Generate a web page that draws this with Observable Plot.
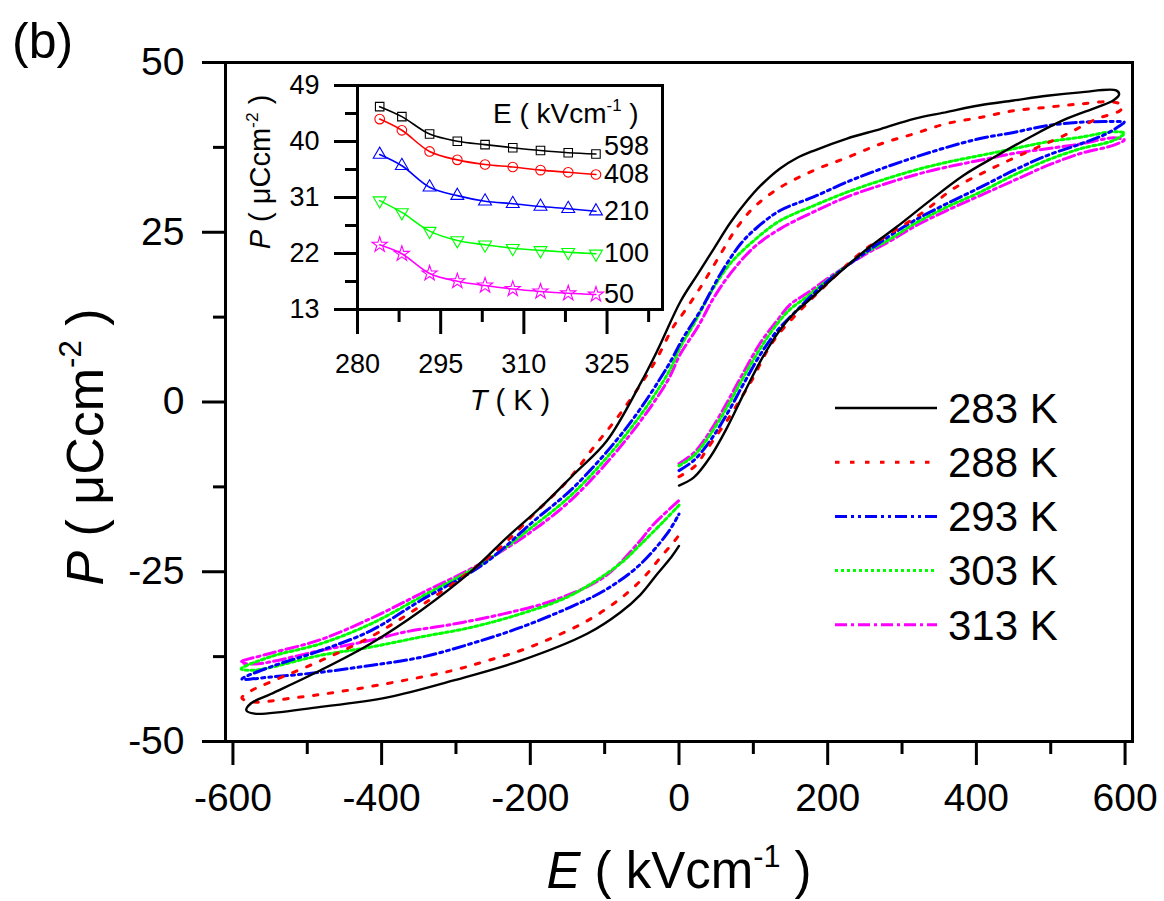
<!DOCTYPE html>
<html><head><meta charset="utf-8">
<script src="https://cdn.jsdelivr.net/npm/d3@7"></script>
<script src="https://cdn.jsdelivr.net/npm/@observablehq/plot@0.6"></script>
<style>
html,body{margin:0;padding:0;background:#fff;}
#wrap{position:relative;width:1164px;height:901px;font-family:Arial,"Liberation Sans",sans-serif;}
#wrap svg{position:absolute;overflow:visible;}
</style></head><body><div id="wrap"></div>
<script>
// ---------- main hysteresis loops (E in kV/cm, P in µC/cm²), path order ----------
const series = ["283 K","288 K","293 K","303 K","313 K"];
const colors = ["#000000","#ff0000","#0000ff","#00ff00","#ff00ff"];
const dashes = [null,"4.5,10.5","12,4,3,4,3,4","3,3","12,4,3,4"];

const E283 = [0,20,42,65,87,110,132,154,172,204,248,293,338,383,428,472,517,562,584,592,588,540,495,450,405,360,316,271,226,181,158,136,110,92,69,47,25,2,-29,-52,-97,-141,-186,-231,-278,-347,-415,-482,-549,-576,-582,-571,-482,-392,-303,-213,-123,-79,-52,-29,-10,0];
const P283 = [-12.3,-11.1,-8.1,-3.7,1.2,6.1,10,13,14.7,17.9,22.1,25.8,29.7,33.4,36.3,39,41.5,43.4,44.4,45.3,45.9,45.6,45.1,44.4,43.7,42.7,41.7,40.2,38.8,37,35.9,34.4,31.9,29.7,26.4,22.6,18.8,14.8,7.6,2.7,-5.7,-10.6,-15.5,-19.9,-24.8,-30.7,-35.6,-39.5,-43,-44.4,-45.4,-45.9,-44.9,-43.5,-41,-38.1,-34.1,-31.0,-28.4,-25.3,-22.8,-21.2];

const E288 = [0,22,38,69,83,98,119,134,150,172,204,248,284,329,369,419,472,517,562,593,597,584,540,495,450,405,360,316,271,226,181,136,101,78,56,29,2,-7,-34,-79,-115,-150,-195,-240,-267,-347,-415,-482,-549,-575,-588,-571,-527,-459,-370,-303,-258,-213,-168,-123,-88,-63,-43,-25,-7,0];
const P288 = [-11,-9.4,-6.9,-2,0.5,3.2,7.6,10,12,14.5,17.9,22.3,24.8,28,31.4,34.3,37,39.2,41.7,42.9,43.6,44.2,43.9,43.4,42.9,41.9,41,39.5,38,36,34.1,31.6,28.7,25.7,21.8,16.9,12.5,11.2,5.6,-1.7,-6.7,-11.6,-16.5,-21.4,-23.8,-30,-34.6,-38.1,-41.2,-42.5,-43.6,-44.2,-43.7,-42.7,-41,-39.5,-38.1,-36.6,-34.6,-32.2,-29.7,-27.5,-25.3,-22.9,-20.6,-19.6];

const E293 = [0,20,42,65,87,110,132,154,172,204,248,284,316,360,405,450,495,540,575,593,599,580,540,495,450,405,360,316,271,226,181,136,105,83,56,29,6,-16,-70,-141,-195,-262,-347,-415,-482,-549,-588,-549,-482,-415,-347,-280,-213,-146,-101,-56,-16,0];
const P293 = [-10.1,-8.6,-5.7,-1.7,2.7,7.1,10.5,13,15,18.2,21.8,24.5,26.7,29.2,31.6,34.1,36.3,38,39.5,40.7,41.2,41.3,41.2,40.7,39.7,38.8,37.5,36,34.3,32.4,30.2,28.2,25.7,23.3,18.9,13.5,9.5,5.1,-3.7,-12.5,-17.5,-23.8,-29.2,-33.7,-36.6,-39,-40.8,-40.5,-39.8,-38.8,-37.6,-35.6,-33.2,-30.2,-27.8,-24.3,-19.4,-16.5];

const E303 = [0,20,42,65,87,110,132,150,172,204,248,284,316,360,405,450,495,540,584,599,584,540,495,450,405,360,316,271,226,181,136,101,69,47,20,2,-16,-70,-141,-195,-262,-347,-415,-482,-549,-589,-571,-482,-415,-347,-280,-213,-146,-79,-52,-20,0];
const P303 = [-9.4,-7.9,-4.8,-0.7,3.7,8,11.5,13.7,15.5,18.3,21.8,24,26.2,28.7,30.9,33.4,35.6,37.3,38.5,39.6,39.8,39,38.3,37.3,36.3,35.3,34.1,32.6,30.9,28.9,26.7,23.8,20.4,16.9,11.5,8.1,4,-4.6,-13.3,-18.2,-23.6,-28.7,-32.7,-35.6,-37.5,-39.3,-39.5,-37.3,-36.1,-34.6,-33.2,-31.2,-28.5,-23.8,-21,-17.5,-15.2];

const E313 = [0,20,42,65,87,110,132,150,172,204,248,284,316,360,405,450,495,540,584,599,584,540,495,450,405,360,316,271,226,181,136,101,69,47,25,2,-16,-70,-141,-195,-262,-347,-415,-482,-549,-589,-571,-482,-415,-370,-303,-236,-168,-101,-56,-34,0];
const P313 = [-9.1,-7.5,-4.3,0,4.4,8.8,12,14.4,16,18.5,21.6,23.7,25.8,28.2,30.4,32.6,34.8,36.6,37.8,38.6,38.9,38,37.3,36.6,35.6,34.6,33.4,31.9,30.2,28,25.5,22.8,18.9,15.4,11,7.1,3,-5.4,-14,-18.8,-23.5,-28.2,-31.9,-35,-37,-38.3,-38.6,-36.6,-35.1,-33.9,-32.7,-31.2,-29.2,-25.8,-20.9,-18.0,-14.5];

const xMajor = [-600,-400,-200,0,200,400,600];
const xMinor = [-500,-300,-100,100,300,500];
const yMajor = [-50,-25,0,25,50];
const yMinor = [-37.5,-12.5,12.5,37.5];

// ---------- inset: P vs T at several fields ----------
const T = [284,288,293,298,303,308,313,318,323];
const fields = ["598","408","210","100","50"];
const P598 = [45.6,44.0,41.2,40.05,39.5,39.0,38.55,38.2,38.0];
const P408 = [43.6,41.8,38.4,37.05,36.3,35.9,35.4,35.05,34.7];
const P210 = [37.9,36.1,32.65,31.3,30.4,30.0,29.55,29.2,28.8];
const P100 = [30.5,28.6,25.6,24.1,23.4,22.85,22.5,22.2,21.95];
const P50  = [23.4,21.95,18.8,17.55,16.85,16.3,15.9,15.6,15.4];
const insetSymbols = ["square","circle","triangle","triangle","star"];
const insetRotate = [0,0,0,180,0];
const tMajor = [280,295,310,325];
const tMinor = [287.5,302.5,317.5,332.5];
const pMajor = [13,22,31,40,49];
const pMinor = [17.5,26.5,35.5,44.5];

const FONT = "Arial, 'Liberation Sans', sans-serif";
const loops = [[E283,P283],[E288,P288],[E293,P293],[E303,P303],[E313,P313]];
const loopRows = loops.map(([E,P],i)=>E.map((e,j)=>({series:series[i],E:e,P:P[j]})));

const lineMarks = [];
for (let i = loops.length-1; i >= 0; i--) {
  lineMarks.push(Plot.line(loopRows[i], {
    x:"E", y:"P", stroke: colors[i], strokeWidth: i===0 ? 2.4 : 3,
    strokeDasharray: dashes[i] || undefined, curve:"catmull-rom"
  }));
}

const main = Plot.plot({
  width:1164, height:901,
  marginLeft:225, marginRight:32, marginTop:62, marginBottom:160,
  style:{fontFamily:FONT, background:"transparent", color:"#000", overflow:"visible"},
  x:{domain:[-610,610]}, y:{domain:[-50,50]},
  marks:[
    ...lineMarks,
    Plot.axisX({ticks:xMajor, tickSize:24, tickPadding:18, fontSize:39, strokeWidth:3, label:null, tickFormat:d=>String(d)}),
    Plot.axisX({ticks:xMinor, tickSize:13, strokeWidth:3, label:null, tickFormat:()=>""}),
    Plot.axisY({ticks:yMajor, tickSize:23, tickPadding:18, fontSize:39, strokeWidth:3, label:null, tickFormat:d=>String(d)}),
    Plot.axisY({ticks:yMinor, tickSize:12, strokeWidth:3, label:null, tickFormat:()=>""}),
    Plot.frame({strokeWidth:3})
  ]
});
main.style.left = "0px"; main.style.top = "0px";
const wrap = document.getElementById("wrap");
wrap.appendChild(main);

function richText(svg, {x, y, size, anchor="middle", rotate=0, parts}) {
  const t = d3.select(svg).append("text")
    .attr("transform", `translate(${x},${y}) rotate(${rotate})`)
    .attr("text-anchor", anchor).attr("font-size", size)
    .attr("font-family", FONT).attr("fill", "#000");
  let shifted = false;
  parts.forEach(p => {
    const ts = t.append("tspan").text(p.t);
    if (p.italic) ts.attr("font-style", "italic");
    if (p.sup) { ts.attr("font-size", size*0.6).attr("dy", -size*0.42); shifted = true; }
    else if (shifted) { ts.attr("dy", size*0.42); shifted = false; }
  });
}

// main axis titles and panel label
richText(main, {x:679, y:888, size:51, parts:[{t:"E",italic:true},{t:" ( kVcm"},{t:"-1",sup:true},{t:" )"}]});
richText(main, {x:103, y:447, size:52, rotate:-90, parts:[{t:"P",italic:true},{t:" ( \u03bcCcm"},{t:"-2",sup:true},{t:" )"}]});
richText(main, {x:12, y:58, size:50, anchor:"start", parts:[{t:"(b)"}]});

// legend
const leg = d3.select(main).append("g");
series.forEach((s,i)=>{
  const yy = 408 + i*54.2;
  const l = leg.append("line").attr("x1",835).attr("x2",937).attr("y1",yy).attr("y2",yy)
    .attr("stroke",colors[i]).attr("stroke-width", i===0?2.4:3);
  if (dashes[i]) l.attr("stroke-dasharray", dashes[i]);
  leg.append("text").attr("x",948).attr("y",yy).attr("dy","0.35em")
    .attr("text-anchor","start")
    .attr("font-size",42).attr("font-family",FONT).attr("fill","#000").text(s);
});

// ---------- inset ----------
const insetP = [P598,P408,P210,P100,P50];
const insetRows = insetP.map((P,i)=>T.map((t,j)=>({field:fields[i],T:t,P:P[j]})));
const insetMarks = [];
insetRows.forEach((rows,i)=>{
  insetMarks.push(Plot.line(rows,{x:"T",y:"P",stroke:colors[i],strokeWidth:1.6,curve:"catmull-rom"}));
  insetMarks.push(Plot.dot(rows,{x:"T",y:"P",stroke:colors[i],fill:"none",strokeWidth:1.1,r:4.8,
    symbol:insetSymbols[i], rotate:insetRotate[i]}));
});
const lastRows = insetRows.map(r=>r[r.length-1]);
const inset = Plot.plot({
  width:460, height:370,
  marginLeft:137, marginRight:18, marginTop:30, marginBottom:116,
  style:{fontFamily:FONT, background:"transparent", color:"#000", overflow:"visible"},
  x:{domain:[280,335]}, y:{domain:[13,49]},
  marks:[
    ...insetMarks,
    Plot.text(lastRows.slice(0,1),{x:"T",y:"P",text:"field",dx:8,dy:-8,textAnchor:"start",fontSize:27,fill:"#000"}),
    Plot.text(lastRows.slice(1),{x:"T",y:"P",text:"field",dx:8,dy:0,textAnchor:"start",fontSize:27,fill:"#000"}),
    Plot.axisX({ticks:tMajor, tickSize:25, tickPadding:19, fontSize:27, strokeWidth:3, label:null, tickFormat:d=>String(d)}),
    Plot.axisX({ticks:tMinor, tickSize:13, strokeWidth:3, label:null, tickFormat:()=>""}),
    Plot.axisY({ticks:pMajor, tickSize:23, tickPadding:15, fontSize:27, strokeWidth:3, label:null, tickFormat:d=>String(d)}),
    Plot.axisY({ticks:pMinor, tickSize:12, strokeWidth:3, label:null, tickFormat:()=>""}),
    Plot.frame({strokeWidth:3})
  ]
});
inset.style.left = "220px"; inset.style.top = "55px";
wrap.appendChild(inset);
richText(inset, {x:273, y:68, size:28, anchor:"start", parts:[{t:"E ( kVcm"},{t:"-1",sup:true},{t:" )"}]});
richText(inset, {x:50, y:117, size:29, rotate:-90, parts:[{t:"P",italic:true},{t:" ( \u03bcCcm"},{t:"-2",sup:true},{t:" )"}]});
richText(inset, {x:290, y:355, size:29, parts:[{t:"T",italic:true},{t:" ( K )"}]});
</script>
</body></html>
